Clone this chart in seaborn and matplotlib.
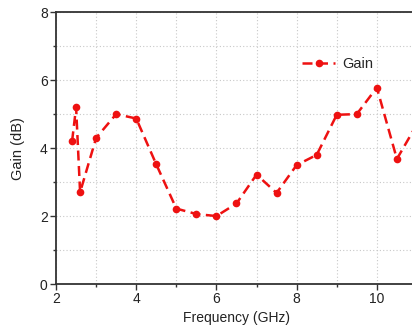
import matplotlib
matplotlib.use("Agg")
import matplotlib.pyplot as plt
from matplotlib.ticker import MultipleLocator
import seaborn as sns
import pandas as pd

freq_ghz = [2.4, 2.5, 2.6, 3.0, 3.5, 4.0, 4.5, 5.0, 5.5, 6.0, 6.5, 7.0, 7.5,
            8.0, 8.5, 9.0, 9.5, 10.0, 10.5, 11.0]
gain_db = [4.2, 5.2, 2.7, 4.3, 5.0, 4.87, 3.52, 2.22, 2.06, 2.0, 2.37, 3.22, 2.68,
           3.5, 3.8, 4.98, 5.0, 5.78, 3.68, 4.7]
series_name = "Gain"

df = pd.DataFrame({"Frequency (GHz)": freq_ghz, "Gain (dB)": gain_db, "series": series_name})

sns.set_style("white")
plt.rcParams["font.family"] = ["Liberation Sans", "DejaVu Sans"]

fig = plt.figure(figsize=(4.12, 3.28), dpi=100)
# the plotting area runs past the right edge of the figure
ax = fig.add_axes([0.136, 0.134, 0.876, 0.829])

sns.lineplot(data=df, x="Frequency (GHz)", y="Gain (dB)", hue="series",
             palette=["#ee1111"], marker="o", markersize=5.5, markeredgewidth=0,
             linewidth=1.8, dashes=False, ax=ax, zorder=3, clip_on=False)
for line in ax.get_lines():
    line.set_linestyle((0, (4, 2.2)))

ax.set_xlim(2, 11)
ax.set_ylim(0, 8)
ax.xaxis.set_major_locator(MultipleLocator(2))
ax.xaxis.set_minor_locator(MultipleLocator(1))
ax.yaxis.set_major_locator(MultipleLocator(2))
ax.yaxis.set_minor_locator(MultipleLocator(1))

ax.grid(True, which="both", color="#c8c8c8", linestyle=(0, (1, 2)), linewidth=0.8)
ax.set_axisbelow(True)

ax.tick_params(which="major", direction="out", length=4, width=1, colors="#333333",
               labelsize=10, labelcolor="#222222", bottom=True, left=True, pad=2)
ax.tick_params(which="minor", direction="out", length=2.5, width=1, colors="#333333",
               bottom=True, left=True)
for side in ("left", "bottom", "top"):
    ax.spines[side].set_color("#333333")
    ax.spines[side].set_linewidth(1.3)
ax.spines["right"].set_visible(False)

ax.set_xlabel("Frequency (GHz)", fontsize=10, color="#222222", labelpad=3)
ax.set_ylabel("Gain (dB)", fontsize=10.5, color="#222222", labelpad=11)

handles, labels = ax.get_legend_handles_labels()
ax.legend(handles, labels, loc="center left", bbox_to_anchor=(0.645, 0.81),
          frameon=False, fontsize=10.5, handlelength=2.3, handletextpad=0.45)

fig.savefig("out.png", dpi=100)
